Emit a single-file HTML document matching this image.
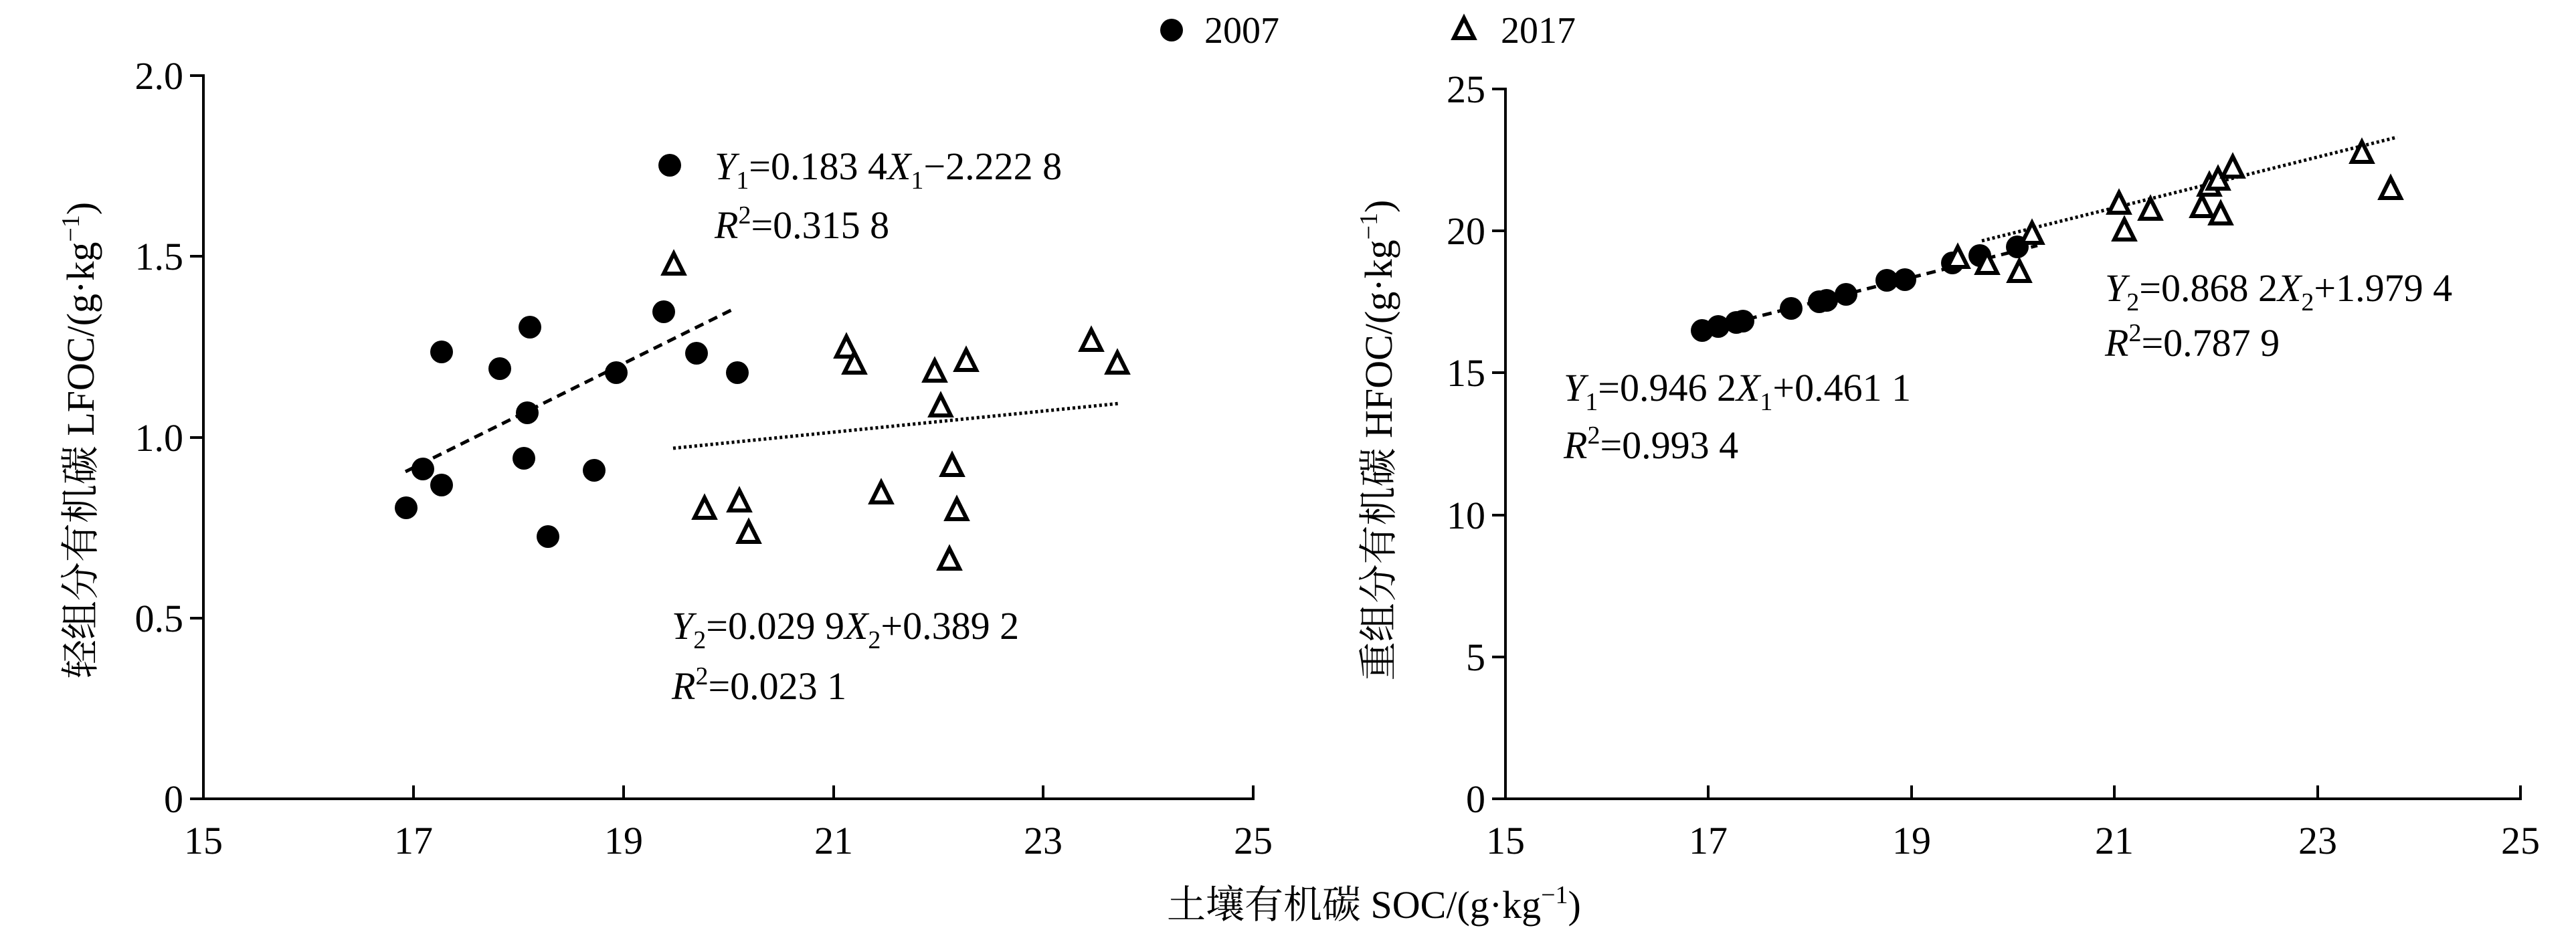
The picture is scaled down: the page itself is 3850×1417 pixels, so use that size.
<!DOCTYPE html>
<html><head><meta charset="utf-8"><style>html,body{margin:0;padding:0;background:#fff}svg{display:block}</style></head>
<body>
<svg width="3850" height="1417" viewBox="0 0 3850 1417" xmlns="http://www.w3.org/2000/svg" font-family="Liberation Serif, Noto Serif CJK SC, serif" fill="#000">
<defs>
<g id="c"><circle r="17" fill="#000"/></g>
<g id="t"><polygon points="0,-18 15,12 -15,12" fill="#fff" stroke="#000" stroke-width="6" stroke-linejoin="miter"/></g>
</defs>
<!-- legend -->
<use href="#c" x="1751" y="45"/>
<text x="1800" y="64" font-size="56">2007</text>
<use href="#t" x="2188" y="45"/>
<text x="2243" y="64" font-size="56">2017</text>

<!-- LEFT CHART -->
<g stroke="#000" stroke-width="4" fill="none">
<line x1="304" y1="111" x2="304" y2="1196"/>
<line x1="302" y1="1194" x2="1875" y2="1194"/>
<line x1="284" y1="113" x2="304" y2="113"/>
<line x1="284" y1="383" x2="304" y2="383"/>
<line x1="284" y1="654" x2="304" y2="654"/>
<line x1="284" y1="924" x2="304" y2="924"/>
<line x1="284" y1="1194" x2="304" y2="1194"/>
<line x1="618" y1="1174" x2="618" y2="1194"/>
<line x1="932" y1="1174" x2="932" y2="1194"/>
<line x1="1246" y1="1174" x2="1246" y2="1194"/>
<line x1="1559" y1="1174" x2="1559" y2="1194"/>
<line x1="1873" y1="1174" x2="1873" y2="1194"/>
</g>
<g font-size="58" text-anchor="end">
<text x="274" y="133">2.0</text>
<text x="274" y="403">1.5</text>
<text x="274" y="674">1.0</text>
<text x="274" y="944">0.5</text>
<text x="274" y="1214">0</text>
</g>
<g font-size="58" text-anchor="middle">
<text x="304" y="1276">15</text>
<text x="618" y="1276">17</text>
<text x="932" y="1276">19</text>
<text x="1246" y="1276">21</text>
<text x="1559" y="1276">23</text>
<text x="1873" y="1276">25</text>
</g>
<text transform="translate(140,658) rotate(-90)" font-size="58" text-anchor="middle">轻组分有机碳 LFOC/(g·kg<tspan dy="-22" font-size="38">−1</tspan><tspan dy="22">)</tspan></text>
<line x1="606" y1="705" x2="1096" y2="462" stroke="#000" stroke-width="5" stroke-dasharray="14,9"/>
<line x1="1006" y1="670" x2="1673" y2="603" stroke="#000" stroke-width="5" stroke-dasharray="4,4"/>
<g>
<use href="#c" x="607" y="759"/>
<use href="#c" x="632" y="701"/>
<use href="#c" x="660" y="526"/>
<use href="#c" x="660" y="725"/>
<use href="#c" x="747" y="551"/>
<use href="#c" x="792" y="489"/>
<use href="#c" x="788" y="617"/>
<use href="#c" x="783" y="685"/>
<use href="#c" x="819" y="802"/>
<use href="#c" x="888" y="703"/>
<use href="#c" x="921" y="557"/>
<use href="#c" x="992" y="466"/>
<use href="#c" x="1041" y="528"/>
<use href="#c" x="1102" y="557"/>
<use href="#c" x="1001" y="247"/>
</g>
<g>
<use href="#t" x="1007" y="397"/>
<use href="#t" x="1053" y="762"/>
<use href="#t" x="1105" y="751"/>
<use href="#t" x="1119" y="798"/>
<use href="#t" x="1265" y="521"/>
<use href="#t" x="1277" y="545"/>
<use href="#t" x="1317" y="739"/>
<use href="#t" x="1397" y="557"/>
<use href="#t" x="1406" y="609"/>
<use href="#t" x="1423" y="698"/>
<use href="#t" x="1419" y="838"/>
<use href="#t" x="1430" y="764"/>
<use href="#t" x="1444" y="541"/>
<use href="#t" x="1631" y="511"/>
<use href="#t" x="1670" y="545"/>
</g>
<g font-size="58">
<text x="1068" y="268"><tspan font-style="italic">Y</tspan><tspan font-size="38" dy="14">1</tspan><tspan dy="-14">=0.183 4</tspan><tspan font-style="italic">X</tspan><tspan font-size="38" dy="14">1</tspan><tspan dy="-14">−2.222 8</tspan></text>
<text x="1068" y="356"><tspan font-style="italic">R</tspan><tspan font-size="38" dy="-22">2</tspan><tspan dy="22">=0.315 8</tspan></text>
<text x="1004" y="955"><tspan font-style="italic">Y</tspan><tspan font-size="38" dy="14">2</tspan><tspan dy="-14">=0.029 9</tspan><tspan font-style="italic">X</tspan><tspan font-size="38" dy="14">2</tspan><tspan dy="-14">+0.389 2</tspan></text>
<text x="1004" y="1045"><tspan font-style="italic">R</tspan><tspan font-size="38" dy="-22">2</tspan><tspan dy="22">=0.023 1</tspan></text>
</g>

<!-- RIGHT CHART -->
<g stroke="#000" stroke-width="4" fill="none">
<line x1="2250" y1="131" x2="2250" y2="1196"/>
<line x1="2248" y1="1194" x2="3769" y2="1194"/>
<line x1="2230" y1="133" x2="2250" y2="133"/>
<line x1="2230" y1="345" x2="2250" y2="345"/>
<line x1="2230" y1="557" x2="2250" y2="557"/>
<line x1="2230" y1="770" x2="2250" y2="770"/>
<line x1="2230" y1="982" x2="2250" y2="982"/>
<line x1="2230" y1="1194" x2="2250" y2="1194"/>
<line x1="2553" y1="1174" x2="2553" y2="1194"/>
<line x1="2857" y1="1174" x2="2857" y2="1194"/>
<line x1="3160" y1="1174" x2="3160" y2="1194"/>
<line x1="3464" y1="1174" x2="3464" y2="1194"/>
<line x1="3767" y1="1174" x2="3767" y2="1194"/>
</g>
<g font-size="58" text-anchor="end">
<text x="2220" y="153">25</text>
<text x="2220" y="365">20</text>
<text x="2220" y="577">15</text>
<text x="2220" y="790">10</text>
<text x="2220" y="1002">5</text>
<text x="2220" y="1214">0</text>
</g>
<g font-size="58" text-anchor="middle">
<text x="2250" y="1276">15</text>
<text x="2553" y="1276">17</text>
<text x="2857" y="1276">19</text>
<text x="3160" y="1276">21</text>
<text x="3464" y="1276">23</text>
<text x="3767" y="1276">25</text>
</g>
<text transform="translate(2080,658) rotate(-90)" font-size="58" text-anchor="middle">重组分有机碳 HFOC/(g·kg<tspan dy="-22" font-size="38">−1</tspan><tspan dy="22">)</tspan></text>
<line x1="2545" y1="494" x2="3045" y2="367" stroke="#000" stroke-width="5" stroke-dasharray="14,9"/>
<line x1="2962" y1="360" x2="3583" y2="205" stroke="#000" stroke-width="5" stroke-dasharray="4,4"/>
<g>
<use href="#c" x="2544" y="494"/>
<use href="#c" x="2568" y="488"/>
<use href="#c" x="2595" y="482"/>
<use href="#c" x="2605" y="480"/>
<use href="#c" x="2677" y="461"/>
<use href="#c" x="2719" y="451"/>
<use href="#c" x="2730" y="449"/>
<use href="#c" x="2759" y="440"/>
<use href="#c" x="2820" y="419"/>
<use href="#c" x="2847" y="418"/>
<use href="#c" x="2918" y="393"/>
<use href="#c" x="2959" y="382"/>
<use href="#c" x="3015" y="369"/>
</g>
<g>
<use href="#t" x="3167" y="306"/>
<use href="#t" x="3175" y="346"/>
<use href="#t" x="3214" y="315"/>
<use href="#t" x="3291" y="311"/>
<use href="#t" x="3302" y="279"/>
<use href="#t" x="3315" y="270"/>
<use href="#t" x="3319" y="322"/>
<use href="#t" x="3337" y="252"/>
<use href="#t" x="3530" y="230"/>
<use href="#t" x="3573" y="284"/>
<use href="#t" x="2970" y="396"/>
<use href="#t" x="3018" y="408"/>
<use href="#t" x="3037" y="351"/>
<use href="#t" x="2926" y="387"/>
</g>
<g font-size="58">
<text x="2337" y="599"><tspan font-style="italic">Y</tspan><tspan font-size="38" dy="14">1</tspan><tspan dy="-14">=0.946 2</tspan><tspan font-style="italic">X</tspan><tspan font-size="38" dy="14">1</tspan><tspan dy="-14">+0.461 1</tspan></text>
<text x="2337" y="685"><tspan font-style="italic">R</tspan><tspan font-size="38" dy="-22">2</tspan><tspan dy="22">=0.993 4</tspan></text>
<text x="3146" y="450"><tspan font-style="italic">Y</tspan><tspan font-size="38" dy="14">2</tspan><tspan dy="-14">=0.868 2</tspan><tspan font-style="italic">X</tspan><tspan font-size="38" dy="14">2</tspan><tspan dy="-14">+1.979 4</tspan></text>
<text x="3146" y="532"><tspan font-style="italic">R</tspan><tspan font-size="38" dy="-22">2</tspan><tspan dy="22">=0.787 9</tspan></text>
</g>

<text x="1744" y="1372" font-size="58">土壤有机碳 SOC/(g·kg<tspan dy="-22" font-size="38">−1</tspan><tspan dy="22">)</tspan></text>
</svg>
</body></html>
